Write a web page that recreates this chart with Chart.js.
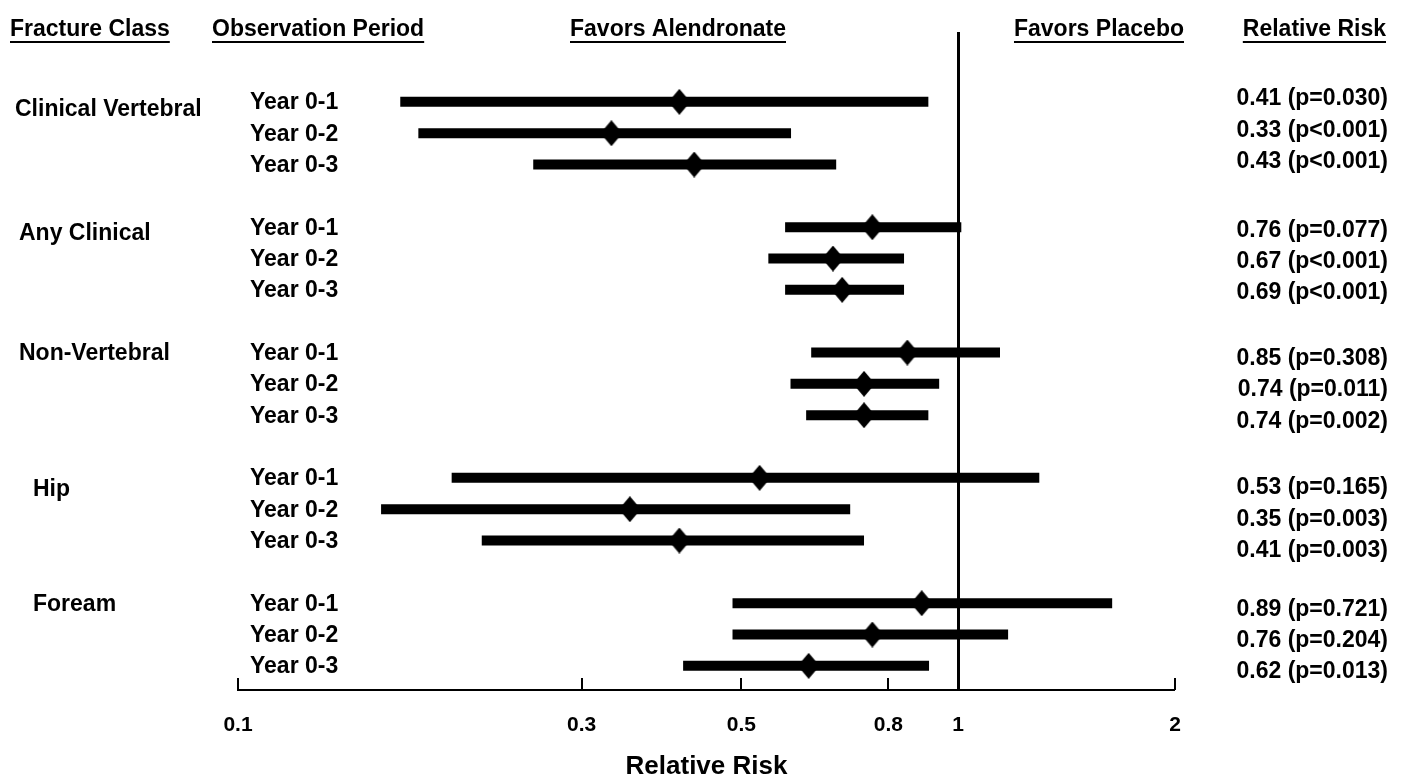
<!DOCTYPE html>
<html>
<head>
<meta charset="utf-8">
<title>Relative Risk by Fracture Class</title>
<script src="https://cdn.jsdelivr.net/npm/chart.js@4.4.0/dist/chart.umd.min.js"></script>
<style>
  html, body { margin: 0; padding: 0; background: #fff; }
  #wrap { width: 1402px; height: 782px; }
</style>
</head>
<body>
<div id="wrap"><canvas id="forestChart" width="1402" height="782"></canvas></div>
<script>
var fractureClasses = ['Clinical Vertebral', 'Any Clinical', 'Non-Vertebral', 'Hip', 'Foream'];
var periods = ['Year 0-1', 'Year 0-2', 'Year 0-3'];
var relRisk = [0.41, 0.33, 0.43, 0.76, 0.67, 0.69, 0.85, 0.74, 0.74, 0.53, 0.35, 0.41, 0.89, 0.76, 0.62];
var ciLow = [0.168, 0.178, 0.257, 0.575, 0.545, 0.575, 0.625, 0.585, 0.615, 0.198, 0.158, 0.218, 0.486, 0.486, 0.415];
var ciHigh = [0.909, 0.586, 0.677, 1.01, 0.841, 0.841, 1.143, 0.941, 0.909, 1.296, 0.708, 0.740, 1.636, 1.173, 0.911];
var pValues = ['p=0.030', 'p<0.001', 'p<0.001', 'p=0.077', 'p<0.001', 'p<0.001', 'p=0.308', 'p=0.011', 'p=0.002',
               'p=0.165', 'p=0.003', 'p=0.003', 'p=0.721', 'p=0.204', 'p=0.013'];
var xTicks = [0.1, 0.3, 0.5, 0.8, 1, 2];

var FONT = '"Liberation Sans", Arial, Helvetica, sans-serif';

// each class takes 3 rows plus one blank row
function rowOf(k) {
    return Math.floor(k / 3) * 4 + (k % 3);
}

var ciData = [];
var rrData = [];
for (var k = 0; k < relRisk.length; k++) {
    ciData.push({x: ciLow[k], y: rowOf(k)});
    ciData.push({x: ciHigh[k], y: rowOf(k)});
    ciData.push({x: ciHigh[k], y: null});
    rrData.push({x: relRisk[k], y: rowOf(k)});
}

// black diamond used as point marker
var diamond = document.createElement('canvas');
diamond.width = 22;
diamond.height = 26;
var dctx = diamond.getContext('2d');
dctx.fillStyle = '#000';
dctx.beginPath();
dctx.moveTo(11, 0);
dctx.lineTo(22, 13);
dctx.lineTo(11, 26);
dctx.lineTo(0, 13);
dctx.closePath();
dctx.fill();

var classShift = [8, 6, 1, 12, 1];
var rightShift = [-3, 3, 6, 10, 6];

var textPlugin = {
    id: 'forestText',
    afterDraw: function(chart) {
        var ctx = chart.ctx;
        var xs = chart.scales.x;
        var ys = chart.scales.y;
        var area = chart.chartArea;
        ctx.save();
        ctx.fillStyle = '#000';
        ctx.strokeStyle = '#000';

        // tick marks pointing up into the plot
        ctx.lineWidth = 2;
        xTicks.forEach(function(v) {
            var px = Math.round(xs.getPixelForValue(v));
            ctx.beginPath();
            ctx.moveTo(px, area.bottom - 12);
            ctx.lineTo(px, area.bottom);
            ctx.stroke();
        });

        // column headers, underlined
        ctx.font = 'bold 23px ' + FONT;
        ctx.textBaseline = 'middle';
        function header(text, x, align) {
            ctx.textAlign = align;
            ctx.fillText(text, x, 30);
            var w = ctx.measureText(text).width;
            var x0 = align === 'right' ? x - w : x;
            ctx.fillRect(x0, 41, w, 2);
        }
        header('Fracture Class', 10, 'left');
        header('Observation Period', 212, 'left');
        header('Favors Alendronate', 570, 'left');
        header('Favors Placebo', 1184, 'right');
        header('Relative Risk', 1386, 'right');

        // row labels
        for (var g = 0; g < fractureClasses.length; g++) {
            ctx.textAlign = 'left';
            var yc = ys.getPixelForValue(g * 4);
            var xClass = g === 0 ? 15 : (g < 3 ? 19 : 33);
            ctx.fillText(fractureClasses[g], xClass, yc + classShift[g]);
            for (var j = 0; j < periods.length; j++) {
                var k = g * 3 + j;
                var yr = ys.getPixelForValue(rowOf(k));
                ctx.textAlign = 'left';
                ctx.fillText(periods[j], 250, yr + 1);
                ctx.textAlign = 'right';
                ctx.fillText(relRisk[k].toFixed(2) + ' (' + pValues[k] + ')', 1388, yr + rightShift[g]);
            }
        }
        ctx.restore();
    }
};

var ctx = document.getElementById('forestChart');
var forestChart = new Chart(ctx, {
    type: 'line',
    data: {
        datasets: [
            {
                label: 'Relative risk',
                type: 'scatter',
                data: rrData,
                pointStyle: diamond,
                pointRadius: 11,
                backgroundColor: '#000',
                borderColor: '#000',
                order: 0
            },
            {
                label: '95% CI',
                data: ciData,
                borderColor: '#000',
                borderWidth: 10,
                borderCapStyle: 'butt',
                pointRadius: 0,
                spanGaps: false,
                fill: false,
                tension: 0,
                order: 1
            }
        ]
    },
    options: {
        responsive: false,
        animation: false,
        events: [],
        layout: {
            padding: {left: 238, right: 227, top: 32, bottom: 0}
        },
        plugins: {
            legend: {display: false},
            tooltip: {enabled: false}
        },
        scales: {
            x: {
                type: 'logarithmic',
                min: 0.1,
                max: 2,
                afterBuildTicks: function(scale) {
                    scale.ticks = xTicks.map(function(v) { return {value: v}; });
                },
                afterFit: function(scale) {
                    scale.height = 92;
                },
                ticks: {
                    autoSkip: false,
                    maxRotation: 0,
                    padding: 23,
                    color: '#000',
                    font: {family: FONT, size: 21, weight: 'bold'},
                    callback: function(value) { return String(value); }
                },
                grid: {
                    drawTicks: false,
                    drawOnChartArea: true,
                    color: function(c) { return c.tick && c.tick.value === 1 ? '#000' : 'rgba(0,0,0,0)'; },
                    lineWidth: function(c) { return c.tick && c.tick.value === 1 ? 3 : 0; }
                },
                border: {display: true, color: '#000', width: 2},
                title: {
                    display: true,
                    text: 'Relative Risk',
                    color: '#000',
                    font: {family: FONT, size: 26, weight: 'bold'},
                    padding: {top: 0, bottom: 0}
                }
            },
            y: {
                type: 'linear',
                reverse: true,
                min: -2.23,
                max: 18.77,
                display: false
            }
        }
    },
    plugins: [textPlugin]
});
</script>
</body>
</html>
